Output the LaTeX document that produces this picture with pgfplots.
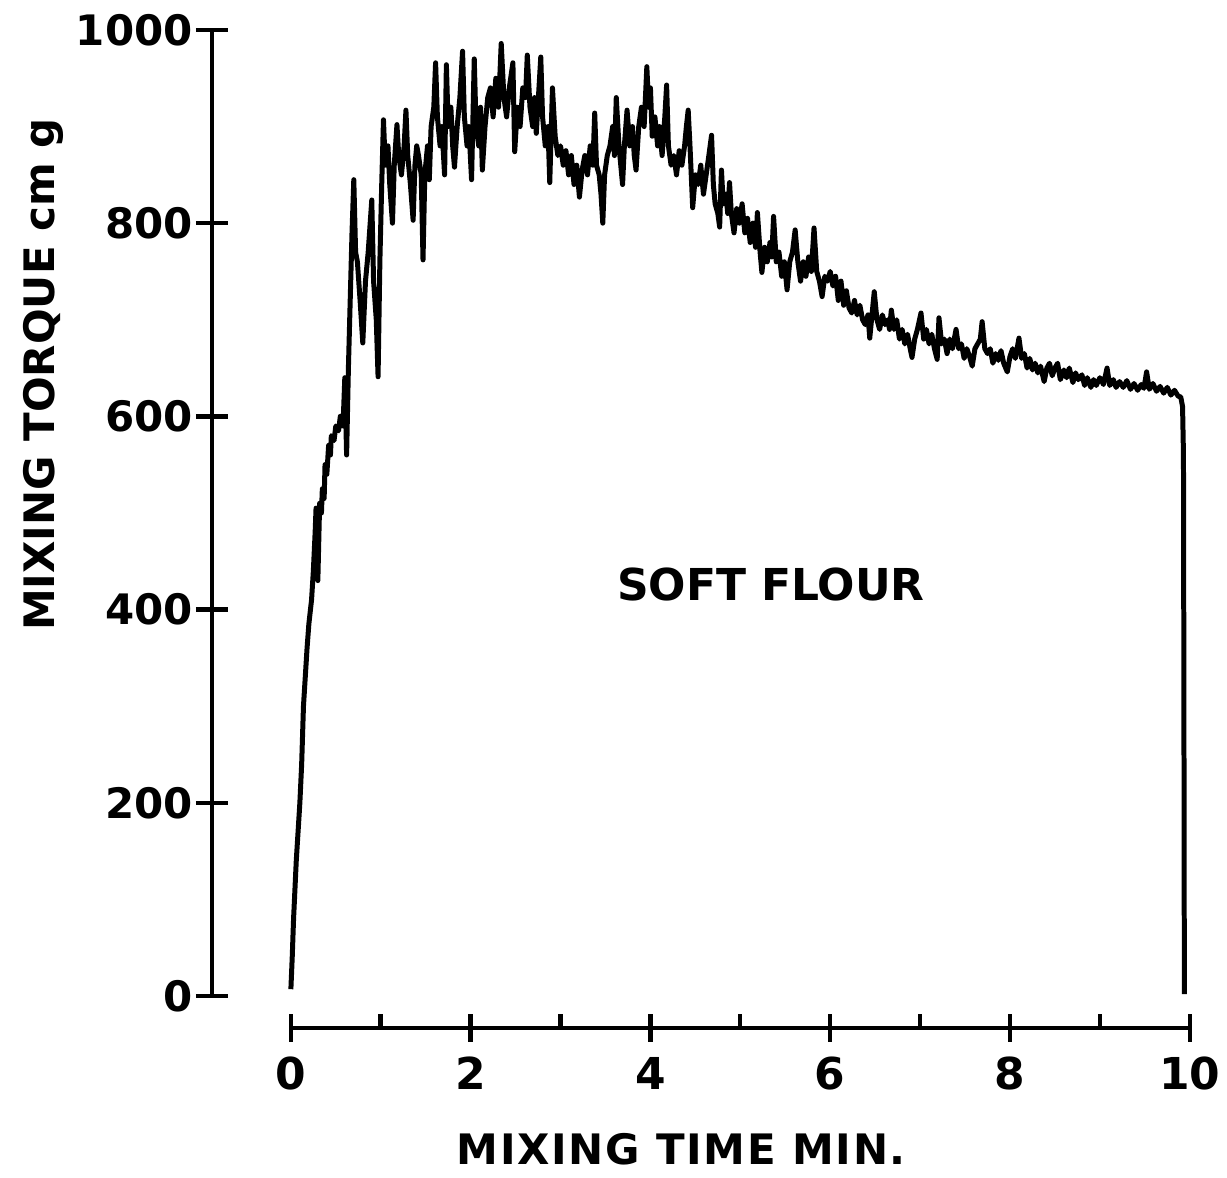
\documentclass[border=0pt]{standalone}
\usepackage{pgfplots}
\pgfplotsset{compat=1.18}
\usepackage{fontspec}
\setmainfont{DejaVu Sans}
\begin{document}
\begin{tikzpicture}
\path (0pt,0pt) rectangle (613.5pt,589.5pt);
\begin{axis}[
  at={(106pt,91pt)}, anchor=south west,
  scale only axis, width=489.5pt, height=483.5pt,
  xmin=-0.88, xmax=10, ymin=0, ymax=1000,
  axis x line=none, axis y line*=left,
  axis line style={line width=2pt},
  ytick={0,200,400,600,800,1000},
  tick align=center, major tick length=16pt,
  tick style={line width=2.2pt, black},
  /pgf/number format/assume math mode=true,
  /pgf/number format/1000 sep={},
  yticklabel style={font=\fontsize{21}{24}\bfseries\selectfont, xshift=2pt},
  clip=false,
]
\addplot[black, line width=2.5pt, line join=round] coordinates {
(0,7) (0.015,40) (0.03,80) (0.045,110) (0.06,140) (0.08,170) (0.1,200) (0.12,240) (0.14,300) (0.16,330) (0.18,360) (0.2,385) (0.23,410) (0.25,440) (0.27,480) (0.28,505) (0.29,470) (0.3,430) (0.31,470) (0.32,510) (0.34,500) (0.35,525) (0.37,515) (0.38,550) (0.4,540) (0.42,570) (0.44,560) (0.45,580) (0.48,575) (0.5,590) (0.53,585) (0.55,600) (0.58,590) (0.6,640) (0.62,560) (0.64,650) (0.66,720) (0.68,790) (0.7,845)
(0.72,770) (0.74,760) (0.77,720) (0.8,676) (0.83,740) (0.86,770) (0.9,824) (0.92,740) (0.95,700) (0.97,641) (0.99,760) (1.01,838) (1.03,907) (1.05,860) (1.08,880) (1.1,840) (1.13,800) (1.15,860) (1.18,902) (1.2,870) (1.23,850) (1.26,880) (1.28,917) (1.3,870) (1.33,840) (1.36,803) (1.38,860) (1.4,880) (1.42,870) (1.45,850) (1.47,762) (1.49,850) (1.52,880) (1.54,845) (1.56,900) (1.59,920) (1.61,966) (1.63,910) (1.66,880) (1.68,900) (1.71,850) (1.73,964) (1.75,900) (1.78,920) (1.8,880) (1.82,858) (1.85,900) (1.88,930) (1.91,978) (1.93,910) (1.96,880) (1.98,900) (2.01,845) (2.04,970) (2.06,900) (2.09,880) (2.11,920) (2.13,855) (2.16,900) (2.19,930) (2.22,940) (2.25,910) (2.28,950) (2.31,920) (2.34,986) (2.37,930) (2.4,910) (2.43,940) (2.47,966) (2.49,874) (2.52,920) (2.55,900) (2.58,940) (2.61,930) (2.63,974) (2.66,920) (2.69,900) (2.71,930) (2.73,893) (2.76,940) (2.78,972) (2.8,910) (2.83,880) (2.86,900) (2.88,842) (2.91,940) (2.94,890) (2.97,870) (3.0,880) (3.03,860) (3.06,875) (3.09,850) (3.12,870) (3.15,840) (3.18,860) (3.21,827) (3.24,855) (3.27,870) (3.3,850) (3.33,880) (3.36,860) (3.38,914) (3.4,860) (3.43,850) (3.45,830) (3.47,800) (3.49,850) (3.52,870) (3.55,880) (3.58,900) (3.6,870) (3.62,930) (3.65,880) (3.67,860) (3.69,840) (3.71,880) (3.74,917) (3.77,880) (3.8,900) (3.82,870) (3.84,855) (3.87,900) (3.9,920) (3.93,900) (3.96,962) (3.98,920) (4.0,940) (4.02,890) (4.05,910) (4.08,880) (4.1,900) (4.13,870) (4.16,910) (4.18,943) (4.2,880) (4.23,860) (4.26,870) (4.29,850) (4.32,875) (4.35,860) (4.38,880) (4.4,900) (4.42,917) (4.44,880) (4.47,816) (4.5,850) (4.53,840) (4.56,860) (4.59,830) (4.62,850) (4.65,870) (4.68,891) (4.7,840) (4.72,820) (4.75,810) (4.77,796) (4.79,855) (4.81,820) (4.84,830) (4.86,810) (4.88,842) (4.9,810) (4.93,790) (4.96,815) (4.99,800) (5.02,820) (5.05,790) (5.08,805) (5.11,780) (5.14,800) (5.17,775) (5.19,811) (5.22,770) (5.24,749) (5.27,775) (5.3,760) (5.33,780) (5.35,765) (5.37,807) (5.4,760) (5.43,770) (5.46,745) (5.49,760) (5.52,731) (5.55,760) (5.58,770) (5.61,793) (5.64,760) (5.67,740) (5.7,760) (5.73,745) (5.76,765) (5.79,750) (5.82,795) (5.85,750) (5.88,740) (5.91,724) (5.94,745) (5.97,740) (6.0,750) (6.03,735) (6.06,745) (6.09,720) (6.12,740) (6.15,715) (6.18,730) (6.21,712) (6.24,707) (6.27,720) (6.3,705) (6.33,715) (6.36,700) (6.39,695) (6.42,705) (6.44,681) (6.47,710) (6.49,729) (6.52,700) (6.55,690) (6.58,705) (6.61,695) (6.64,700) (6.66,690) (6.68,710) (6.71,690) (6.74,700) (6.77,680) (6.8,690) (6.83,675) (6.86,685) (6.89,670) (6.91,661) (6.94,680) (6.97,690) (7.01,707) (7.04,680) (7.07,690) (7.1,675) (7.13,685) (7.16,670) (7.19,659) (7.21,702) (7.24,675) (7.27,680) (7.3,665) (7.33,680) (7.36,670) (7.4,690) (7.43,670) (7.46,675) (7.49,660) (7.52,670) (7.55,662) (7.58,652) (7.61,670) (7.64,675) (7.67,680) (7.69,698) (7.72,670) (7.75,665) (7.78,670) (7.81,655) (7.84,665) (7.87,658) (7.9,668) (7.93,655) (7.97,646) (8.0,662) (8.03,670) (8.06,660) (8.1,681) (8.13,660) (8.16,665) (8.19,650) (8.22,660) (8.25,648) (8.28,655) (8.31,645) (8.34,652) (8.38,636) (8.41,650) (8.44,655) (8.47,642) (8.5,650) (8.53,655) (8.56,638) (8.6,648) (8.63,640) (8.66,650) (8.7,635) (8.73,645) (8.76,638) (8.8,643) (8.83,632) (8.86,640) (8.9,630) (8.93,638) (8.96,632) (9.0,640) (9.04,633) (9.08,650) (9.11,632) (9.15,638) (9.18,630) (9.22,636) (9.26,630) (9.3,637) (9.34,628) (9.38,634) (9.42,627) (9.46,633) (9.49,629) (9.52,646) (9.55,628) (9.59,634) (9.63,626) (9.67,631) (9.71,624) (9.75,630) (9.79,622) (9.83,627) (9.87,621) (9.9,620) (9.92,610) (9.93,560) (9.935,300) (9.94,2)
};
\node[font=\fontsize{22}{26}\bfseries\selectfont] at (axis cs:5.34,426) {SOFT FLOUR};
\end{axis}
\begin{axis}[
  at={(145.5pt,75pt)}, anchor=south west,
  scale only axis, width=450pt, height=20pt,
  xmin=0, xmax=10, ymin=0, ymax=1,
  axis x line*=bottom, axis y line=none,
  axis line style={line width=2pt},
  xtick={0,2,4,6,8,10},
  tick align=center, major tick length=14pt,
  tick style={line width=2.2pt, black},
  extra x ticks={1,3,5,7,9},
  extra x tick labels={},
  extra x tick style={tick align=inside, major tick length=7pt},
  /pgf/number format/assume math mode=true,
  xticklabel style={font=\fontsize{22}{26}\bfseries\selectfont, yshift=-4pt},
]
\end{axis}
\node[font=\fontsize{21}{26}\bfseries\selectfont, rotate=90] at (22pt,402pt) {MIXING TORQUE cm g};
\node[font=\fontsize{21}{26}\bfseries\selectfont] at (341pt,14.5pt) {\addfontfeature{LetterSpace=4}MIXING TIME MIN.};
\end{tikzpicture}
\end{document}
